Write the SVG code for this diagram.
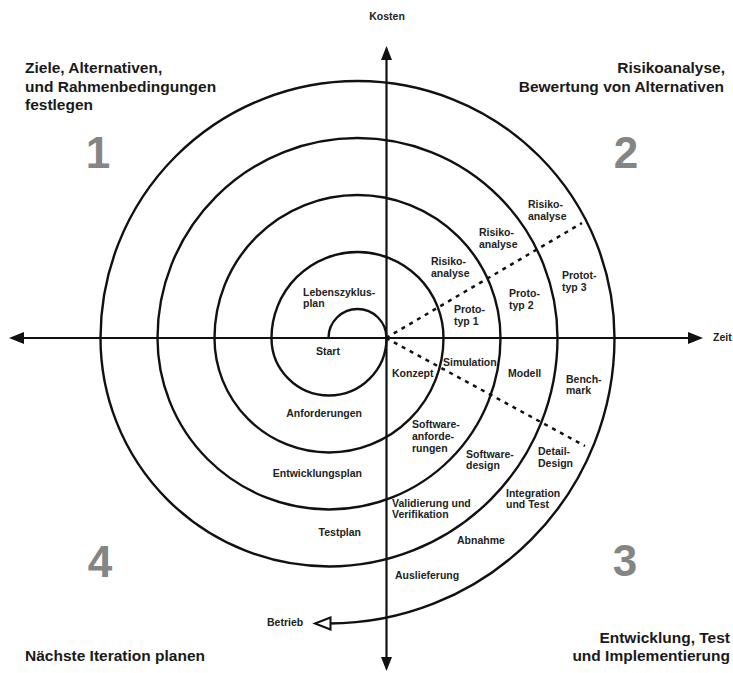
<svg xmlns="http://www.w3.org/2000/svg" width="733" height="673" viewBox="0 0 733 673">
  <defs>
    <style>
      .lbl { font-family: "Liberation Sans", Arial, sans-serif; font-weight: bold; font-size: 10.5px; fill: #222; }
      .end { text-anchor: end; }
      .head { font-family: "Liberation Sans", Arial, sans-serif; font-weight: bold; font-size: 15.5px; fill: #1a1a1a; }
      .num { font-family: "Liberation Sans", Arial, sans-serif; font-weight: bold; font-size: 44px; fill: #858585; text-anchor: middle; }
      .axis { fill: none; stroke: #111; stroke-width: 2.2; }
      .spiral { fill: none; stroke: #111; stroke-width: 2.4; }
      .dots { fill: none; stroke: #111; stroke-width: 2.5; stroke-dasharray: 4 5; }
      .head-fill { fill: #111; stroke: none; }
    </style>
  </defs>

  <rect width="733" height="673" fill="#fff"/>

  <!-- quadrant headings -->
  <g id="q1">
    <text class="head" x="25" y="73">Ziele, Alternativen,</text>
    <text class="head" x="25" y="92">und Rahmenbedingungen</text>
    <text class="head" x="25" y="110">festlegen</text>
    <text class="num" x="98" y="168">1</text>
  </g>
  <g id="q2">
    <text class="head end" x="725" y="73">Risikoanalyse,</text>
    <text class="head end" x="724" y="92">Bewertung von Alternativen</text>
    <text class="num" x="626" y="168">2</text>
  </g>
  <g id="q3">
    <text class="head end" x="730" y="643">Entwicklung, Test</text>
    <text class="head end" x="730" y="661">und Implementierung</text>
    <text class="num" x="625" y="576">3</text>
  </g>
  <g id="q4">
    <text class="head" x="25" y="661">Nächste Iteration planen</text>
    <text class="num" x="100" y="577">4</text>
  </g>

  <!-- connectors: axes, spiral, phase separators -->
  <g id="connectors">
    <line class="axis" x1="22" y1="338" x2="690" y2="338"/>
    <polygon class="head-fill" points="9,338 24,332 24,344"/>
    <polygon class="head-fill" points="703,338 688,332 688,344"/>
    <line class="axis" x1="386.5" y1="58" x2="386.5" y2="660"/>
    <polygon class="head-fill" points="386.5,46 381,60 392,60"/>
    <polygon class="head-fill" points="386.5,671 381,657 392,657"/>

    <line class="dots" x1="386" y1="338" x2="582" y2="223"/>
    <line class="dots" x1="386" y1="338" x2="585" y2="446"/>

    <path class="spiral" d="M328.5,338 A29,29 0 0 1 386.5,338 A57.5,57.5 0 0 1 271.5,338 A86,86 0 0 1 443.5,338 A114.5,114.5 0 0 1 214.5,338 A143,143 0 0 1 500.5,338 A171.5,171.5 0 0 1 157.5,338 A200,200 0 0 1 557.5,338 A228.5,228.5 0 0 1 100.5,338 A257,257 0 0 1 614.5,338 A285.5,285.5 0 0 1 329,623.5 L330,623.5"/>
    <polygon points="315,623.5 330.5,617.5 330.5,629.5" fill="#fff" stroke="#111" stroke-width="2"/>
  </g>

  <!-- axis labels -->
  <g id="axis-labels">
    <text class="lbl" x="387" y="20" text-anchor="middle" font-size="10">Kosten</text>
    <text class="lbl" x="713" y="341" font-size="9.5">Zeit</text>
  </g>

  <!-- phase labels along the spiral -->
  <g id="n-lebenszyklus"><text class="lbl" x="303" y="296">Lebenszyklus-</text><text class="lbl" x="303" y="307">plan</text></g>
  <g id="n-start"><text class="lbl" x="316" y="355">Start</text></g>
  <g id="n-anforderungen"><text class="lbl end" x="362" y="417">Anforderungen</text></g>
  <g id="n-entwicklungsplan"><text class="lbl end" x="362" y="477">Entwicklungsplan</text></g>
  <g id="n-testplan"><text class="lbl end" x="361" y="536">Testplan</text></g>

  <g id="n-risiko1"><text class="lbl" x="431" y="265">Risiko-</text><text class="lbl" x="431" y="277">analyse</text></g>
  <g id="n-proto1"><text class="lbl" x="454" y="313">Proto-</text><text class="lbl" x="454" y="325">typ 1</text></g>
  <g id="n-risiko2"><text class="lbl" x="479" y="236">Risiko-</text><text class="lbl" x="479" y="248">analyse</text></g>
  <g id="n-proto2"><text class="lbl" x="509" y="297">Proto-</text><text class="lbl" x="509" y="309">typ 2</text></g>
  <g id="n-risiko3"><text class="lbl" x="528" y="208">Risiko-</text><text class="lbl" x="528" y="220">analyse</text></g>
  <g id="n-proto3"><text class="lbl" x="562" y="279">Protot-</text><text class="lbl" x="562" y="291">typ 3</text></g>

  <g id="n-konzept"><text class="lbl" x="392" y="377">Konzept</text></g>
  <g id="n-simulation"><text class="lbl" x="443" y="366">Simulation</text></g>
  <g id="n-modell"><text class="lbl" x="508" y="377">Modell</text></g>
  <g id="n-benchmark"><text class="lbl" x="566" y="383">Bench-</text><text class="lbl" x="566" y="394">mark</text></g>

  <g id="n-swanf"><text class="lbl" x="412" y="428">Software-</text><text class="lbl" x="412" y="440">anforde-</text><text class="lbl" x="412" y="452">rungen</text></g>
  <g id="n-swdesign"><text class="lbl" x="466" y="458">Software-</text><text class="lbl" x="466" y="469">design</text></g>
  <g id="n-detail"><text class="lbl" x="538" y="455">Detail-</text><text class="lbl" x="538" y="467">Design</text></g>
  <g id="n-integration"><text class="lbl" x="506" y="497">Integration</text><text class="lbl" x="506" y="508">und Test</text></g>
  <g id="n-validierung"><text class="lbl" x="392" y="507">Validierung und</text><text class="lbl" x="392" y="518">Verifikation</text></g>
  <g id="n-abnahme"><text class="lbl" x="457" y="544">Abnahme</text></g>
  <g id="n-auslieferung"><text class="lbl" x="395" y="579">Auslieferung</text></g>
  <g id="n-betrieb"><text class="lbl" x="267" y="626">Betrieb</text></g>
</svg>
